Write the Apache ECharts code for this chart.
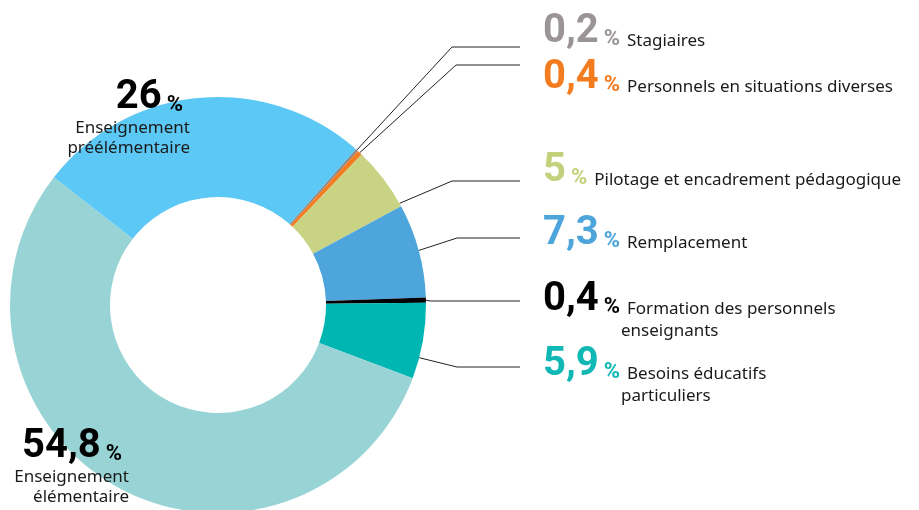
<!DOCTYPE html>
<html>
<head>
<meta charset="utf-8">
<script src="https://cdn.jsdelivr.net/npm/echarts@6/dist/echarts.min.js"></script>
<style>
  html, body { margin: 0; padding: 0; background: #fff; }
  #chart { width: 919px; height: 510px; }
</style>
</head>
<body>
<div id="chart"></div>
<script>
// data, clockwise from the small grey slice
const names = [
  'Stagiaires',
  'Personnels en situations diverses',
  'Pilotage et encadrement pédagogique',
  'Remplacement',
  'Formation des personnels\nenseignants',
  'Besoins éducatifs\nparticuliers',
  'Enseignement\nélémentaire',
  'Enseignement\npréélémentaire'
];
const values = [0.2, 0.4, 5, 7.3, 0.4, 5.9, 54.8, 26];
const valueLabels = ['0,2', '0,4', '5', '7,3', '0,4', '5,9', '54,8', '26'];
const sliceColors = ['#8b8888', '#f47c20', '#c8d483', '#4da5dc', '#000000', '#00b6b3', '#98d4d5', '#5bc8f5'];
const numColors = ['#9a9594', '#f47c20', '#c4d17c', '#4da5dc', '#000000', '#10b8b5', '#000000', '#000000'];

// label placement (x, top y, align), leader-line elbow and where along the slice it starts
const labelPos = [
  [543, 12, 'left'], [543, 58, 'left'], [543, 151, 'left'],
  [543, 214, 'left'], [543, 280, 'left'], [543, 345, 'left'],
  [129, 427, 'right'], [190, 78, 'right']
];
const lineElbow = [[452, 47], [456, 65], [452, 181], [457, 238], [430, 301], [457, 367], null, null];
const lineAttach = [0.5, 0.5, 0.95, 0.5, 0.5, 0.72, 0, 0];

const numFont = "'Roboto', 'Liberation Sans', sans-serif";
const txtFont = "'Noto Sans', 'Open Sans', sans-serif";

const rich = {
  t: { fontFamily: txtFont, fontSize: 17, color: '#1a1a1a', lineHeight: 22, verticalAlign: 'bottom', padding: [0, 0, 2, 0] },
  tl: { fontFamily: txtFont, fontSize: 17, color: '#1a1a1a', lineHeight: 20 },
  sp: { width: 78, lineHeight: 22 }
};
values.forEach(function (v, i) {
  rich['n' + i] = { fontFamily: numFont, fontWeight: 'bold', fontSize: 40, lineHeight: 40, color: numColors[i], verticalAlign: 'bottom' };
  rich['p' + i] = { fontFamily: numFont, fontWeight: 'bold', fontSize: 22, lineHeight: 22, color: numColors[i], verticalAlign: 'bottom', padding: [0, 7, 2, 5] };
});

const chart = echarts.init(document.getElementById('chart'));

const data = values.map(function (v, i) {
  const item = { name: names[i], value: v, itemStyle: { color: sliceColors[i] } };
  if (!lineElbow[i]) item.labelLine = { show: false };
  return item;
});

const total = values.reduce(function (a, b) { return a + b; }, 0);
const startAngle = 48.5;
const cx = 218, cy = 305, rOuter = 208;

// point on the outer rim of slice i, at fraction f along it
function edgePoint(i, f) {
  let before = 0;
  for (let k = 0; k < i; k++) before += values[k];
  const ang = startAngle - (before + values[i] * f) / total * 360;
  const a = ang * Math.PI / 180;
  return [cx + rOuter * Math.cos(a), cy - rOuter * Math.sin(a)];
}

chart.setOption({
  animation: false,
  series: [{
    type: 'pie',
    center: [cx, cy],
    radius: [108, rOuter],
    startAngle: startAngle,
    clockwise: true,
    avoidLabelOverlap: false,
    data: data,
    label: {
      show: true,
      position: 'outside',
      rich: rich,
      formatter: function (p) {
        const i = p.dataIndex;
        const lines = names[i].split('\n');
        if (lineElbow[i]) {
          let s = '{n' + i + '|' + valueLabels[i] + '}{p' + i + '|%}{t|' + lines[0] + '}';
          for (let k = 1; k < lines.length; k++) s += '\n{sp| }{t|' + lines[k] + '}';
          return s;
        }
        let s = '{n' + i + '|' + valueLabels[i] + '}{p' + i + '|%}';
        lines.forEach(function (l) { s += '\n{tl|' + l + '}'; });
        return s;
      }
    },
    labelLine: {
      show: true,
      length: 10,
      length2: 10,
      lineStyle: { color: '#222', width: 1 }
    },
    labelLayout: function (params) {
      const i = params.dataIndex;
      const lp = labelPos[i];
      const out = { x: lp[0], y: lp[1], align: lp[2], verticalAlign: 'top' };
      const el = lineElbow[i];
      if (el) {
        out.labelLinePoints = [edgePoint(i, lineAttach[i]), [el[0], el[1]], [520, el[1]]];
      }
      return out;
    }
  }]
});
</script>
</body>
</html>
